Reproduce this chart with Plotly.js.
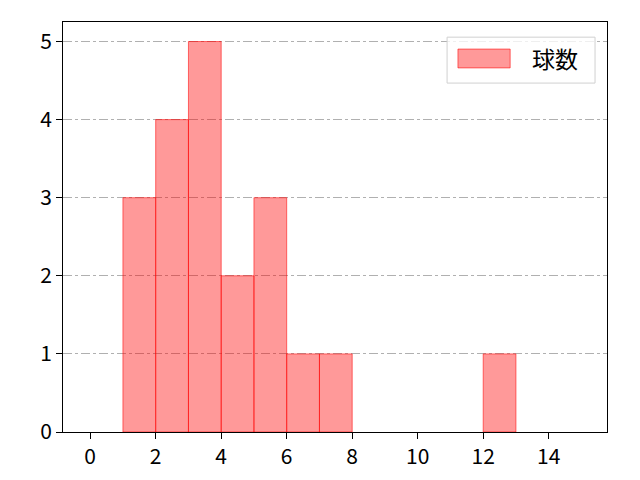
<!DOCTYPE html>
<html>
<head>
<meta charset="utf-8">
<script src="https://cdn.plot.ly/plotly-3.0.1.min.js"></script>
<style>body{margin:0;} #hist{width:640px;height:480px;}</style>
</head>
<body>
<div id="hist"></div>
<script>
// histogram bins (left edge, width 1) and counts
var binLeft = [1, 2, 3, 4, 5, 6, 7, 12];
var counts = [3, 4, 5, 2, 3, 1, 1, 1];
var xTicks = [0, 2, 4, 6, 8, 10, 12, 14];
var yTicks = [0, 1, 2, 3, 4, 5];
var seriesName = '球数';

var font = 'Noto Sans CJK JP, DejaVu Sans, sans-serif';
var fill = 'rgba(255,0,0,0.4)';
var edge = 'rgba(255,0,0,0.55)';

var trace = {
  type: 'bar',
  x: binLeft,
  y: counts,
  width: 1,
  offset: 0,
  name: seriesName,
  marker: {color: fill, line: {color: edge, width: 1}}
};

// legend drawn by hand so the swatch can be matplotlib-sized
var legendShapes = [
  {type: 'rect', xref: 'paper', yref: 'paper', x0: 0.706, x1: 0.978, y0: 0.851, y1: 0.963,
   line: {color: '#d0d0d0', width: 1}, fillcolor: 'rgba(255,255,255,0.8)'},
  {type: 'rect', xref: 'paper', yref: 'paper', x0: 0.726, x1: 0.822, y0: 0.888, y1: 0.934,
   line: {color: edge, width: 1}, fillcolor: fill}
];

var layout = {
  width: 640,
  height: 480,
  margin: {l: 63, r: 33, t: 22, b: 48},
  paper_bgcolor: 'white',
  plot_bgcolor: 'white',
  font: {family: font, size: 21, color: '#000'},
  bargap: 0,
  showlegend: false,
  shapes: legendShapes,
  annotations: [{
    xref: 'paper', yref: 'paper', x: 0.858, y: 0.912, xanchor: 'left', yanchor: 'middle',
    text: seriesName, showarrow: false, font: {family: font, size: 23, color: '#000'}
  }],
  xaxis: {
    range: [-0.83, 15.78],
    tickvals: xTicks,
    ticks: 'outside', ticklen: 6, tickcolor: '#000',
    showgrid: false, zeroline: false,
    showline: true, linecolor: '#000', linewidth: 1, mirror: true
  },
  yaxis: {
    range: [0, 5.25],
    tickvals: yTicks,
    ticks: 'outside', ticklen: 6, tickcolor: '#000',
    showgrid: true, gridcolor: '#b0b0b0', griddash: 'dashdot', gridwidth: 1,
    zeroline: false,
    showline: true, linecolor: '#000', linewidth: 1, mirror: true
  }
};

Plotly.newPlot('hist', [trace], layout, {staticPlot: true});
</script>
</body>
</html>
